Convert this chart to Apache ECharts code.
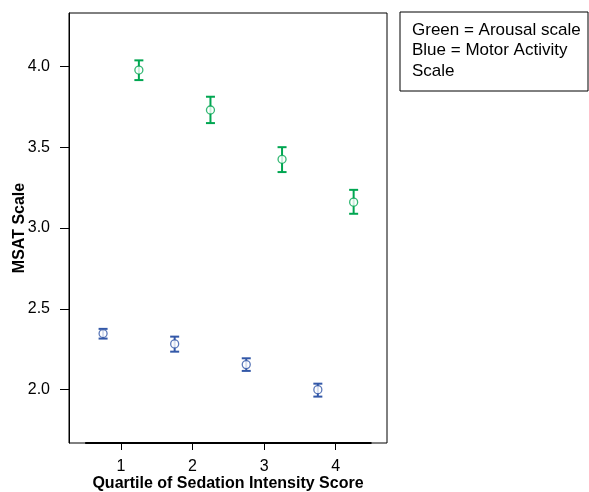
<!DOCTYPE html>
<html>
<head>
<meta charset="utf-8">
<script src="https://cdn.jsdelivr.net/npm/echarts@6/dist/echarts.min.js"></script>
<style>
  html, body { margin: 0; padding: 0; background: #fff; }
  #chart { width: 589px; height: 492px; }
</style>
</head>
<body>
<div id="chart"></div>
<script>
// quartile positions (offset left/right of the tick)
var arousalX = [1.25, 2.25, 3.25, 4.25];
var arousalMean = [3.977, 3.73, 3.425, 3.16];
var arousalLow = [3.915, 3.649, 3.346, 3.088];
var arousalHigh = [4.037, 3.812, 3.5, 3.236];

var motorX = [0.75, 1.75, 2.75, 3.75];
var motorMean = [2.347, 2.283, 2.155, 2.0];
var motorLow = [2.316, 2.235, 2.116, 1.957];
var motorHigh = [2.376, 2.328, 2.194, 2.037];

var xTicks = [1, 2, 3, 4];
var yTicks = [2.0, 2.5, 3.0, 3.5, 4.0];

var green = "#00a651";
var blue = "#3358a8";

function barData(xs, lo, hi) {
  return xs.map(function (x, i) { return [x, lo[i], hi[i]]; });
}
function pointData(xs, ys) {
  return xs.map(function (x, i) { return [x, ys[i]]; });
}

// error bar: stem + two caps
function errorBar(color) {
  return function (params, api) {
    var top = api.coord([api.value(0), api.value(2)]);
    var bot = api.coord([api.value(0), api.value(1)]);
    var half = 4.5;
    var style = { stroke: color, lineWidth: 2 };
    return {
      type: "group",
      children: [
        { type: "line", shape: { x1: top[0], y1: top[1], x2: bot[0], y2: bot[1] }, style: style },
        { type: "line", shape: { x1: top[0] - half, y1: top[1], x2: top[0] + half, y2: top[1] }, style: style },
        { type: "line", shape: { x1: bot[0] - half, y1: bot[1], x2: bot[0] + half, y2: bot[1] }, style: style }
      ]
    };
  };
}

var chart = echarts.init(document.getElementById("chart"));
var option = {
  animation: false,
  grid: {
    left: 69, top: 13, width: 318, height: 430,
    outerBoundsMode: "none",
    containLabel: false,
    show: true, borderColor: "#000", borderWidth: 1, backgroundColor: "#fff"
  },
  xAxis: {
    type: "value",
    min: 0.274, max: 4.716,
    name: "Quartile of Sedation Intensity Score",
    nameLocation: "middle",
    nameGap: 33,
    nameMoveOverlap: false,
    nameTextStyle: { fontFamily: "Liberation Sans", fontSize: 16, fontWeight: "bold", color: "#000" },
    axisLine: { show: false },
    axisTick: { show: true, customValues: xTicks, length: 7, inside: false, lineStyle: { color: "#000" } },
    axisLabel: { customValues: xTicks, margin: 16, fontFamily: "Liberation Sans", fontSize: 16, color: "#000" },
    splitLine: { show: false }
  },
  yAxis: {
    type: "value",
    min: 1.67, max: 4.33,
    name: "MSAT Scale",
    nameLocation: "middle",
    nameGap: 41,
    nameMoveOverlap: false,
    nameRotate: 90,
    nameTextStyle: { fontFamily: "Liberation Sans", fontSize: 16, fontWeight: "bold", color: "#000" },
    axisLine: { show: true, lineStyle: { color: "#000" } },
    axisTick: { show: true, customValues: yTicks, length: 9, lineStyle: { color: "#000" } },
    axisLabel: {
      customValues: yTicks, margin: 19, fontFamily: "Liberation Sans", fontSize: 16, color: "#000",
      formatter: function (v) { return v.toFixed(1); }
    },
    splitLine: { show: false }
  },
  graphic: [
    {
      type: "rect",
      shape: { x: 400, y: 12, width: 188, height: 79 },
      style: { fill: "#fff", stroke: "#000", lineWidth: 1 }
    },
    {
      type: "text",
      left: 412, top: 20,
      style: {
        text: "Green = Arousal scale\nBlue = Motor Activity\nScale",
        fontFamily: "Liberation Sans", fontSize: 17, lineHeight: 20.5, fill: "#000"
      }
    }
  ],
  series: [
    {
      type: "custom",
      renderItem: errorBar(green),
      data: barData(arousalX, arousalLow, arousalHigh),
      encode: { x: 0, y: [1, 2] },
      z: 2
    },
    {
      type: "scatter",
      data: pointData(arousalX, arousalMean),
      symbol: "circle",
      symbolSize: 8,
      itemStyle: { color: "#fff", borderColor: green, borderWidth: 1.3 },
      z: 3
    },
    {
      type: "custom",
      renderItem: errorBar(blue),
      data: barData(motorX, motorLow, motorHigh),
      encode: { x: 0, y: [1, 2] },
      z: 2
    },
    {
      type: "scatter",
      data: pointData(motorX, motorMean),
      symbol: "circle",
      symbolSize: 8,
      itemStyle: { color: "#fff", borderColor: blue, borderWidth: 1.3 },
      z: 3,
      markLine: {
        silent: true,
        symbol: "none",
        label: { show: false },
        lineStyle: { color: "#000", width: 2, type: "solid" },
        data: [[{ coord: [0.5, 1.67] }, { coord: [4.5, 1.67] }]]
      }
    }
  ]
};
chart.setOption(option);
</script>
</body>
</html>
